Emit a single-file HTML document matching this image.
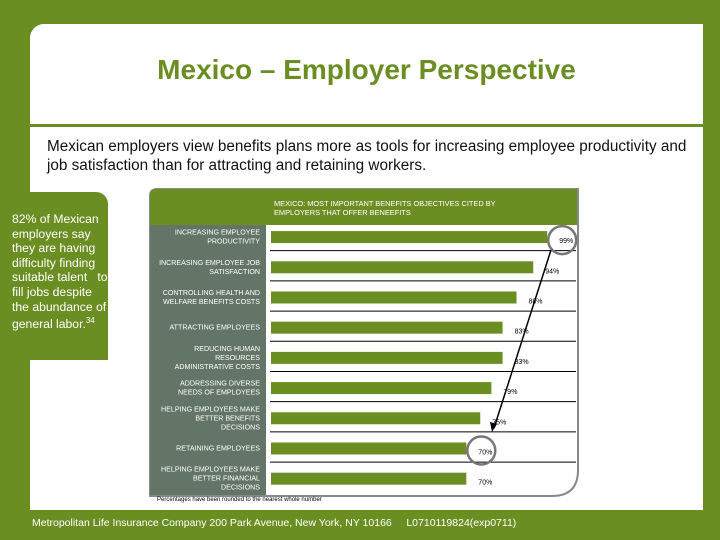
<!DOCTYPE html>
<html><head><meta charset="utf-8"><style>
body{margin:0;width:720px;height:540px;background:#6b8e23;position:relative;overflow:hidden;font-family:"Liberation Sans",sans-serif}
.a{position:absolute}
</style></head><body>
<div class="a" style="left:30px;top:24px;width:673px;height:486px;background:#fff;border-top-left-radius:14px"></div>
<div class="a" style="left:30px;top:54px;width:673px;text-align:center;color:#6b8e23;font-size:28px;font-weight:bold">Mexico – Employer Perspective</div>
<div class="a" style="left:30px;top:124px;width:673px;height:3px;background:#6b8e23"></div>
<div class="a" style="left:47px;top:137px;width:648px;font-size:15.3px;line-height:19px;color:#111">Mexican employers view benefits plans more as tools for increasing employee productivity and job satisfaction than for attracting and retaining workers.</div>
<div class="a" style="left:0;top:192px;width:108px;height:168px;background:#6b8e23;border-top-right-radius:12px"></div>
<div class="a" style="left:12px;top:212px;font-size:12.2px;line-height:14.6px;color:#fff;white-space:nowrap">82% of Mexican<br>employers say<br>they are having<br>difficulty finding<br>suitable talent &nbsp; to<br>fill jobs despite<br>the abundance of<br>general labor.<sup style="font-size:8px">34</sup></div>
<svg class="a" style="left:0;top:0" width="720" height="540" id="c"></svg>
<div class="a" style="left:157px;top:497px;font-size:6px;color:#000">Percentages have been rounded to the nearest whole number</div>
<div class="a" style="left:32px;top:517px;font-size:10.5px;color:#fff;white-space:pre">Metropolitan Life Insurance Company 200 Park Avenue, New York, NY 10166     L0710119824(exp0711)</div>
<script>
const categories=[["INCREASING EMPLOYEE","PRODUCTIVITY"],["INCREASING EMPLOYEE JOB","SATISFACTION"],["CONTROLLING HEALTH AND","WELFARE BENEFITS COSTS"],["ATTRACTING EMPLOYEES"],["REDUCING HUMAN","RESOURCES","ADMINISTRATIVE COSTS"],["ADDRESSING DIVERSE","NEEDS OF EMPLOYEES"],["HELPING EMPLOYEES MAKE","BETTER BENEFITS","DECISIONS"],["RETAINING EMPLOYEES"],["HELPING EMPLOYEES MAKE","BETTER FINANCIAL","DECISIONS"]];
const values=[99,94,88,83,83,79,75,70,70];
const valueLabels=["99%","94%","88%","83%","83%","79%","75%","70%","70%"];
const svg=document.getElementById('c');const NS='http://www.w3.org/2000/svg';
function mk(t,a,p){const e=document.createElementNS(NS,t);for(const k in a)e.setAttribute(k,a[k]);(p||svg).appendChild(e);return e;}
const x0=271,xs=v=>x0+v*2.79,rowH=30.2,topY=225,yc=i=>topY+rowH*(i+0.4);
let e;
e=mk('path',{d:'M150,196 Q150,189 157,189 L578,189 L578,470 Q578,496 552,496 L150,496 Z',fill:'#fff',stroke:'#888','stroke-width':2});


e=mk('path',{d:'M150,196 Q150,189 157,189 L577,189 L577,225 L150,225 Z',fill:'#6b8e23'});


e=mk('rect',{x:150,y:225,width:116,height:270,fill:'#627567'});


const h=mk('text',{x:274,y:206,fill:'#fff','font-size':7.4,'font-family':'Liberation Sans'});h.textContent='MEXICO: MOST IMPORTANT BENEFITS OBJECTIVES CITED BY';


const h2=mk('text',{x:274,y:215,fill:'#fff','font-size':7.4,'font-family':'Liberation Sans'});h2.textContent='EMPLOYERS THAT OFFER BENEEFITS';


values.forEach((v,i)=>{
 const y=yc(i);
 if(i<values.length-1){e=mk('line',{x1:270,x2:576,y1:topY+rowH*(i+0.85),y2:topY+rowH*(i+0.85),stroke:'#000','stroke-width':1});
 
 }
 e=mk('rect',{x:x0,y:y-6,width:xs(v)-x0,height:12,fill:'#6b8e23'});
 
 
 e=mk('text',{x:xs(v)+12,y:y+6,'font-size':7,'font-family':'Liberation Sans',fill:'#000'});e.textContent=valueLabels[i];
 
 
 const L=categories[i],n=L.length;
 L.forEach((s,j)=>{e=mk('text',{x:260,y:y+2+(j-(n-1)/2)*9,'font-size':7.1,'font-family':'Liberation Sans',fill:'#fff','text-anchor':'end'});e.textContent=s;
 
 });
});
e=mk('circle',{cx:xs(values[0])+15,cy:yc(0)+3,r:14,fill:'none',stroke:'#777','stroke-width':2.5});


e=mk('circle',{cx:xs(values[7])+15,cy:yc(7)+2,r:14,fill:'none',stroke:'#777','stroke-width':2.5});


e=mk('line',{x1:551,y1:250,x2:494,y2:428,stroke:'#000','stroke-width':1.5});


e=mk('path',{d:'M492,432 L490,422 L497,424 Z',fill:'#000'});


</script>
</body></html>
